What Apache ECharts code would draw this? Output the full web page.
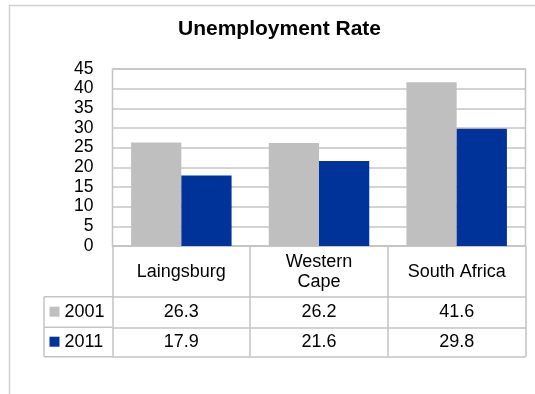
<!DOCTYPE html>
<html>
<head>
<meta charset="utf-8">
<script src="https://cdn.jsdelivr.net/npm/echarts@6/dist/echarts.min.js"></script>
<style>
  html, body { margin: 0; padding: 0; background: #fff; }
  #chart { width: 535px; height: 394px; }
</style>
</head>
<body>
<div id="chart"></div>
<script>
// data
var places = ['Laingsburg', 'Western\nCape', 'South Africa'];
var years = ['2001', '2011'];
var rate2001 = [26.3, 26.2, 41.6];
var rate2011 = [17.9, 21.6, 29.8];
var yTicks = { min: 0, max: 45, step: 5 };

var myChart = echarts.init(document.getElementById('chart'));
var lineCol = '#c4c4c4';
var font = "'Liberation Sans', Arial, sans-serif";

// table rows under the plot (y of each horizontal rule)
var rowY = [246, 296.7, 327.3, 356.7];

function tick(len) {
    return { show: true, interval: 0, alignWithLabel: false, length: len,
             lineStyle: { color: lineCol, width: 1.5 } };
}

var option = {
    animation: false,
    title: {
        text: 'Unemployment Rate',
        left: 178,
        top: 19,
        padding: 0,
        textStyle: { fontFamily: font, fontSize: 21, fontWeight: 'bold', color: '#000' }
    },
    legend: {
        orient: 'vertical',
        left: 49.5,
        top: 301.7,
        padding: 0,
        itemGap: 10,
        itemWidth: 10,
        itemHeight: 10,
        icon: 'rect',
        textStyle: { fontFamily: font, fontSize: 18, color: '#000', lineHeight: 20 },
        data: years
    },
    grid: {
        left: 112.5,
        right: 9.5,
        top: 69,
        bottom: 394 - rowY[0],
        show: true,
        borderColor: lineCol,
        borderWidth: 1.5
    },
    xAxis: [
        {
            type: 'category',
            data: places,
            position: 'bottom',
            axisLine: { show: true, lineStyle: { color: lineCol, width: 1.5 } },
            axisTick: tick(rowY[1] - rowY[0]),
            axisLabel: {
                interval: 0, margin: 25.7, verticalAlign: 'middle',
                fontFamily: font, fontSize: 18, lineHeight: 20, color: '#000'
            }
        },
        {
            type: 'category',
            data: places,
            position: 'bottom',
            offset: rowY[1] - rowY[0],
            axisLine: { show: true, lineStyle: { color: lineCol, width: 1.5 } },
            axisTick: tick(rowY[2] - rowY[1]),
            axisLabel: {
                interval: 0, margin: 15, verticalAlign: 'middle',
                fontFamily: font, fontSize: 18, color: '#000',
                formatter: function (v, i) { return rate2001[i].toFixed(1); }
            }
        },
        {
            type: 'category',
            data: places,
            position: 'bottom',
            offset: rowY[2] - rowY[0],
            axisLine: { show: true, lineStyle: { color: lineCol, width: 1.5 } },
            axisTick: tick(rowY[3] - rowY[2]),
            axisLabel: {
                interval: 0, margin: 14.4, verticalAlign: 'middle',
                fontFamily: font, fontSize: 18, color: '#000',
                formatter: function (v, i) { return rate2011[i].toFixed(1); }
            }
        },
        {
            type: 'category',
            data: places,
            position: 'bottom',
            offset: rowY[3] - rowY[0],
            axisLine: { show: true, lineStyle: { color: lineCol, width: 1.5 } },
            axisTick: { show: false },
            axisLabel: { show: false }
        }
    ],
    yAxis: {
        type: 'value',
        min: yTicks.min,
        max: yTicks.max,
        interval: yTicks.step,
        axisLine: { show: false },
        axisTick: { show: false },
        axisLabel: { margin: 19, fontFamily: font, fontSize: 17.5, color: '#000' },
        splitLine: { lineStyle: { color: lineCol, width: 1.5 } }
    },
    series: [
        {
            name: years[0],
            type: 'bar',
            data: rate2001,
            barGap: '0%',
            barCategoryGap: '27%',
            itemStyle: { color: '#bfbfbf' }
        },
        {
            name: years[1],
            type: 'bar',
            data: rate2011,
            itemStyle: { color: '#003399' }
        }
    ],
    graphic: [
        // outer chart frame (left + top edges)
        { type: 'polyline', silent: true, shape: { points: [[9.5, 394], [9.5, 5.5], [535, 5.5]] },
          style: { fill: null, stroke: '#d0d0d0', lineWidth: 1.5 } },
        // legend column of the data table
        { type: 'line', silent: true, shape: { x1: 44, y1: rowY[1], x2: 44, y2: rowY[3] },
          style: { stroke: lineCol, lineWidth: 1.5 } },
        { type: 'line', silent: true, shape: { x1: 44, y1: rowY[1], x2: 112.5, y2: rowY[1] },
          style: { stroke: lineCol, lineWidth: 1.5 } },
        { type: 'line', silent: true, shape: { x1: 44, y1: rowY[2], x2: 112.5, y2: rowY[2] },
          style: { stroke: lineCol, lineWidth: 1.5 } },
        { type: 'line', silent: true, shape: { x1: 44, y1: rowY[3], x2: 112.5, y2: rowY[3] },
          style: { stroke: lineCol, lineWidth: 1.5 } }
    ]
};

option && myChart.setOption(option);
</script>
</body>
</html>
